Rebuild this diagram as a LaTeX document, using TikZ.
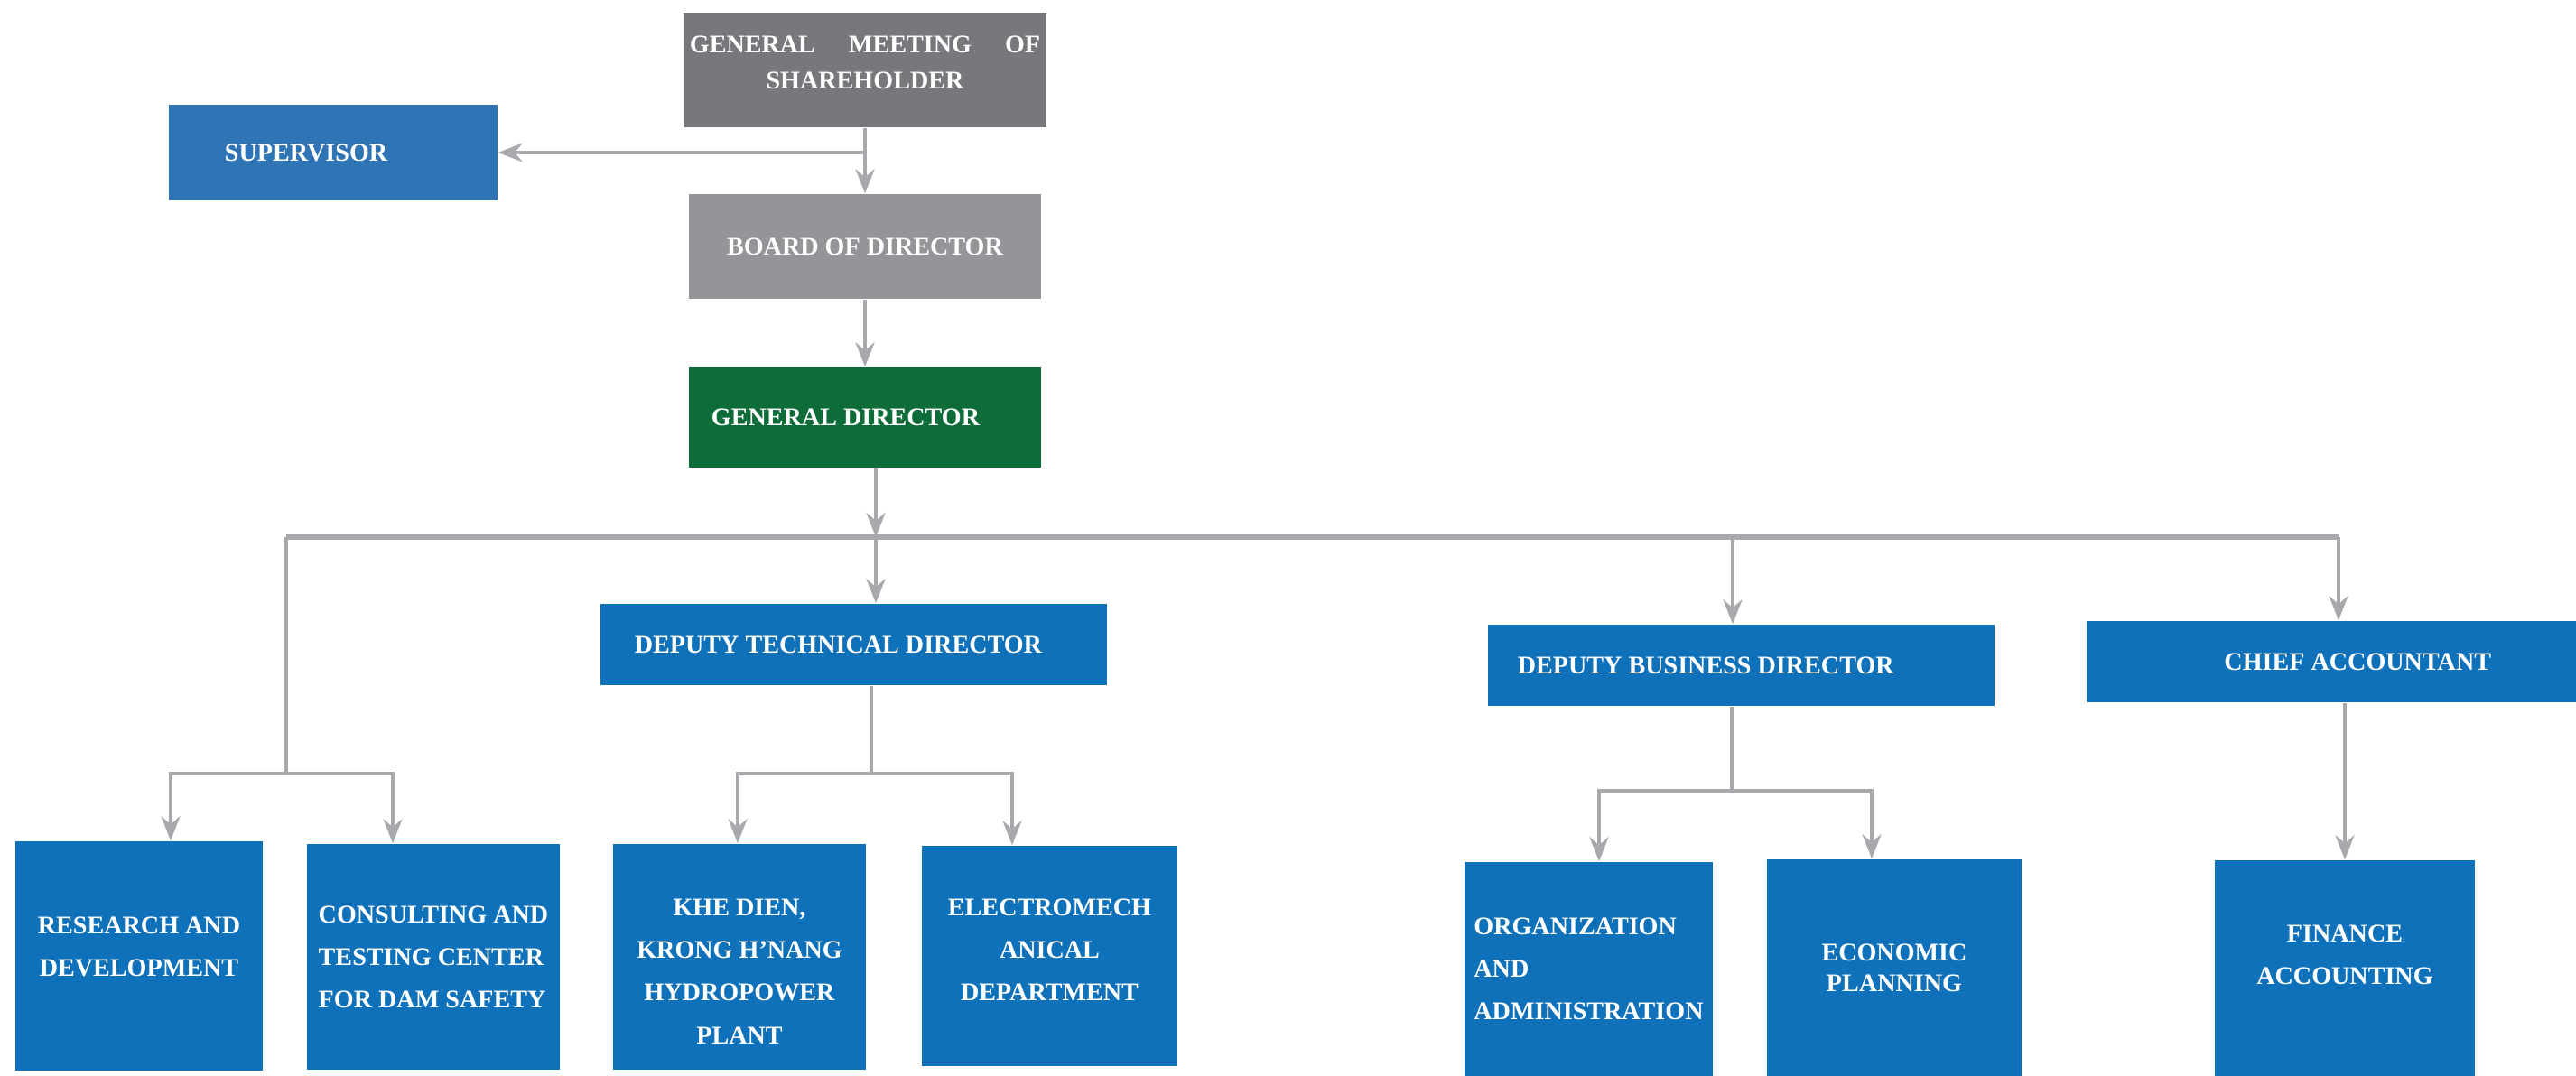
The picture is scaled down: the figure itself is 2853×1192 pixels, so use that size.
\documentclass[tikz,border=0pt]{standalone}
\usepackage{fontspec}
\setmainfont{Liberation Serif}
\usepackage{xcolor}
\usepackage{tikz}
\usetikzlibrary{arrows.meta,positioning}
\definecolor{ocGrey}{HTML}{77787C}
\definecolor{ocSilver}{HTML}{939598}
\definecolor{ocGreen}{HTML}{0E6C38}
\definecolor{ocSky}{HTML}{2F74B5}
\definecolor{ocBlue}{HTML}{0F71B9}
\definecolor{ocLine}{HTML}{A7A9AC}

\begin{document}
\begin{tikzpicture}[x=0.01cm,y=-0.01cm,
  font=\fontsize{8}{13.4}\selectfont\bfseries,
  sz/.style 2 args={minimum width=#1*0.01cm,minimum height=#2*0.01cm},
  unit/.style={fill=ocBlue,text=white,inner sep=0pt,align=center},
  head/.style={unit,fill=#1},
  ln/.style={draw=ocLine,line width=1.3pt},
  bus/.style={draw=ocLine,line width=1.45pt},
  fl/.style={-{Stealth[length=2.7mm,width=2.1mm,inset=0.9mm]},draw=ocLine,line width=1.3pt}]

\useasboundingbox (0,0) rectangle (2853,1192);

\node[head=ocGrey,sz={402}{127},text depth=0.16cm,font=\fontsize{8}{11.4}\selectfont\bfseries] (gms) at (958,77.5)
  {\makebox[3.88cm][s]{GENERAL MEETING OF}\\SHAREHOLDER};
\node[head=ocSky,sz={364}{106},align=flush left,text width=2.40cm,inner xsep=0.62cm] (sup) at (369,169) {SUPERVISOR};
\node[head=ocSilver,sz={390}{116}] (bod) at (958,273) {BOARD OF DIRECTOR};
\node[head=ocGreen,sz={390}{111},align=flush left,text width=3.40cm,inner xsep=0.25cm] (gd) at (958,462.5) {GENERAL DIRECTOR};

\node[unit,sz={561}{90},align=flush left,text width=4.85cm,inner xsep=0.38cm] (dtd) at (945.5,714) {DEPUTY TECHNICAL DIRECTOR};
\node[unit,sz={561}{90},align=flush left,text width=4.95cm,inner xsep=0.33cm] (dbd) at (1928.5,737) {DEPUTY BUSINESS DIRECTOR};
\node[unit,sz={542}{90},align=flush right,text width=3.54cm,inner xsep=0.94cm] (ca) at (2582,733) {CHIEF ACCOUNTANT};

\node[unit,sz={274}{254},text depth=0.2cm] (rd)  at (154,1059)  {RESEARCH AND\\DEVELOPMENT};
\node[unit,sz={280}{250},align=flush left] (cts) at (480,1060) {CONSULTING AND\\TESTING CENTER\\FOR DAM SAFETY};
\node[unit,sz={280}{250},text height=1.92cm] (khe) at (819,1060)  {KHE DIEN,\\KRONG H’NANG\\HYDROPOWER\\PLANT};
\node[unit,sz={283}{244},text depth=0.14cm] (emd) at (1162.5,1059) {ELECTROMECH\\ANICAL\\DEPARTMENT};
\node[unit,sz={275}{237},align=flush left] (org) at (1759.5,1073.5) {ORGANIZATION\\AND\\ADMINISTRATION};
\node[unit,sz={282}{240},font=\fontsize{8}{9.7}\selectfont\bfseries] (eco) at (2098,1072) {ECONOMIC\\PLANNING};
\node[unit,sz={288}{239},text depth=0.3cm] (fin) at (2597,1072.5) {FINANCE\\ACCOUNTING};

\draw[fl] (gms) -- (bod);
\draw[fl] (gms.south |- sup.east) -- (sup.east);
\draw[fl] (bod) -- (gd);

\coordinate (spine) at (970,595);
\coordinate (busL)  at (317,595);
\coordinate (busR)  at (2590,595);
\coordinate (busB)  at (1919,595);
\draw[bus] (busL) -- (busR);
\draw[fl] (gd.south -| spine) -- (spine);
\draw[fl] (spine) -- (spine |- dtd.north);
\draw[fl] (busB) -- (busB |- dbd.north);
\draw[fl] (busR) -- (busR |- ca.north);

\coordinate (f1) at (317,857);
\coordinate (f1a) at (189,857);
\coordinate (f1b) at (435,857);
\draw[ln] (busL) -- (f1);
\draw[fl] (f1) -- (f1a) -- (f1a |- rd.north);
\draw[fl] (f1) -- (f1b) -- (f1b |- cts.north);

\coordinate (f2) at (965,857);
\coordinate (f2a) at (817,857);
\coordinate (f2b) at (1121,857);
\draw[ln] (dtd.south -| f2) -- (f2);
\draw[fl] (f2) -- (f2a) -- (f2a |- khe.north);
\draw[fl] (f2) -- (f2b) -- (f2b |- emd.north);

\coordinate (f3) at (1918,876);
\coordinate (f3a) at (1771,876);
\coordinate (f3b) at (2073,876);
\draw[ln] (dbd.south -| f3) -- (f3);
\draw[fl] (f3) -- (f3a) -- (f3a |- org.north);
\draw[fl] (f3) -- (f3b) -- (f3b |- eco.north);

\draw[fl] (ca.south -| fin.north) -- (fin.north);
\end{tikzpicture}
\end{document}
